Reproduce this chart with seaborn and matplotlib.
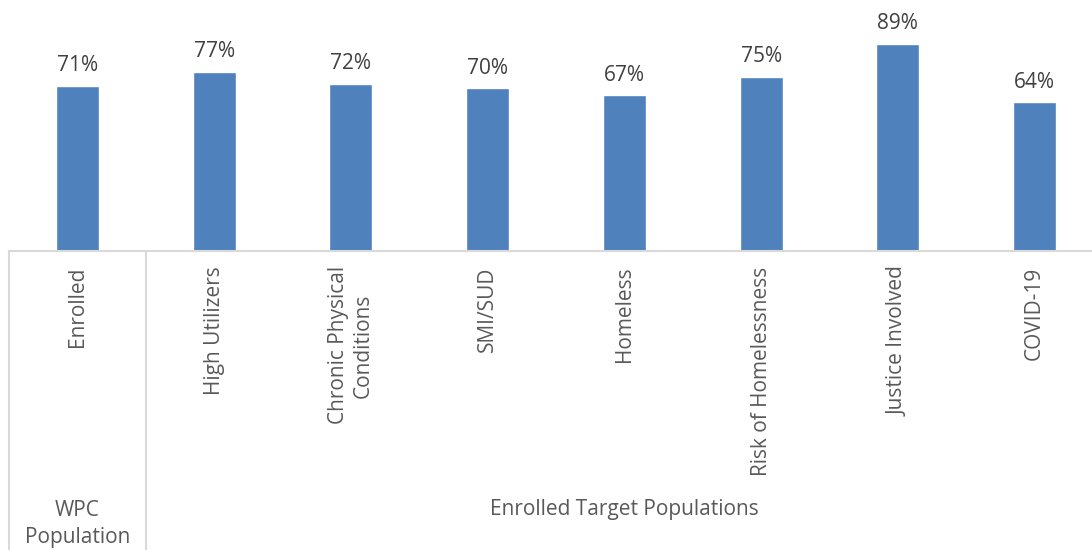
import numpy as np
import pandas as pd
import seaborn as sns
from matplotlib import pyplot as plt
from matplotlib import transforms

categories = ['Enrolled', 'High Utilizers', 'Chronic Physical\nConditions', 'SMI/SUD',
              'Homeless', 'Risk of Homelessness', 'Justice Involved', 'COVID-19']
values = [71, 77, 72, 70, 67, 75, 89, 64]
groups = ['WPC\nPopulation', 'Enrolled Target Populations']
group_sizes = [1, 7]

sns.set_style('white')
plt.rcParams['font.family'] = ['Open Sans', 'DejaVu Sans']

bar_color = '#4F81BD'
text_color = '#595959'
line_color = '#D9D9D9'

fig = plt.figure(figsize=(10.92, 5.5), dpi=100)
# axes runs a bit past the right edge, as in the reference
ax = fig.add_axes([9.1 / 1092, 1 - 251 / 550, (1103 - 9.1) / 1092, 251 / 550])

df = pd.DataFrame({'cat': categories, 'val': values})
sns.barplot(data=df, x='cat', y='val', color=bar_color, width=0.315, ax=ax, saturation=1)
ax.set_ylim(0, 108)
ax.set_xlim(-0.5, len(categories) - 0.5)
ax.bar_label(ax.containers[0], labels=['%d%%' % v for v in values],
             padding=7, fontsize=15, color='#404040')

for s in ['top', 'right', 'left']:
    ax.spines[s].set_visible(False)
ax.spines['bottom'].set_color(line_color)
ax.spines['bottom'].set_linewidth(1.5)
ax.set_yticks([])
ax.set_xlabel('')
ax.set_ylabel('')
ax.tick_params(axis='x', length=0, pad=11)
ax.set_xticks(range(len(categories)))
ax.set_xticklabels(categories, rotation=90, fontsize=15, color=text_color,
                   ha='center', va='top', multialignment='center')

# group separators and labels below the axis
trans = transforms.blended_transform_factory(ax.transData, fig.transFigure)
y_axis = 1 - 251 / 550
bounds = np.concatenate([[0], np.cumsum(group_sizes)]) - 0.5
for b in bounds:
    ax.plot([b, b], [y_axis, 0], transform=trans, color=line_color,
            lw=1.5, clip_on=False)
for i, g in enumerate(groups):
    mid = (bounds[i] + bounds[i + 1]) / 2
    yl = 1 - 509 / 550 if '\n' not in g else 1 - 524 / 550
    ax.text(mid, yl, g, transform=trans, ha='center', va='center',
            fontsize=15, color=text_color, linespacing=1.35)

plt.savefig('out.png', dpi=100)
